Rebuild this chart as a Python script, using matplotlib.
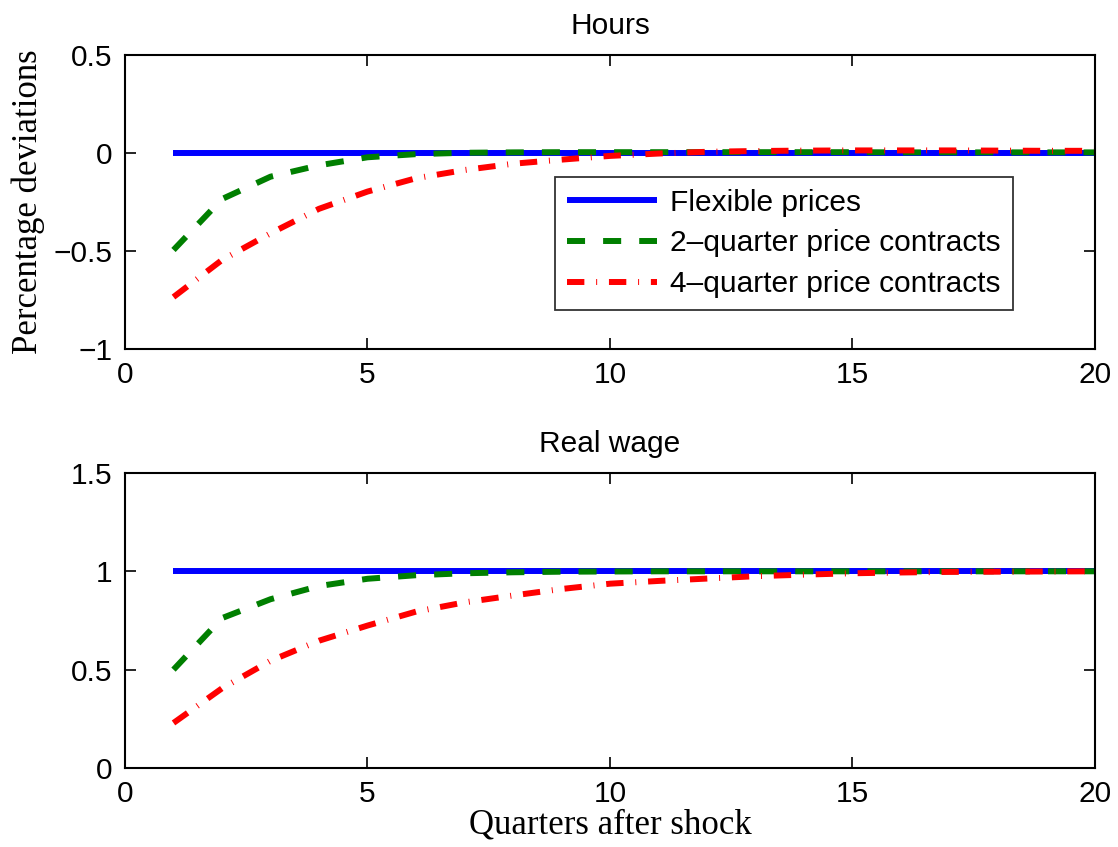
import matplotlib
matplotlib.use("Agg")
import matplotlib.pyplot as plt
import numpy as np

quarters = list(range(1, 21))

hours_flex = [0.0] * 20
hours_2q = [-0.495, -0.235, -0.121, -0.063, -0.022, -0.006, 0.001, 0.003, 0.004, 0.004,
            0.004, 0.004, 0.004, 0.004, 0.004, 0.003, 0.003, 0.003, 0.003, 0.003]
hours_4q = [-0.735, -0.546, -0.41, -0.285, -0.197, -0.129, -0.087, -0.055, -0.034, -0.015,
            -0.003, 0.006, 0.010, 0.012, 0.013, 0.013, 0.013, 0.012, 0.011, 0.011]

wage_flex = [1.0] * 20
wage_2q = [0.5, 0.762, 0.858, 0.925, 0.962, 0.98, 0.99, 0.995, 0.998, 0.999,
           1.0, 1.0, 1.0, 1.0, 1.0, 1.0, 1.0, 1.0, 1.0, 1.0]
wage_4q = [0.229, 0.405, 0.545, 0.647, 0.724, 0.795, 0.842, 0.877, 0.91, 0.937,
           0.951, 0.963, 0.975, 0.983, 0.99, 0.994, 0.997, 0.998, 0.999, 1.0]

labels = ["Flexible prices", "2\u2013quarter price contracts", "4\u2013quarter price contracts"]
titles = ["Hours", "Real wage"]
top_yticks = [-1, -0.5, 0, 0.5]
bot_yticks = [0, 0.5, 1, 1.5]
xticks = [0, 5, 10, 15, 20]

plt.rcParams['lines.scale_dashes'] = False
plt.rcParams['font.family'] = ['Liberation Sans', 'DejaVu Sans']
plt.rcParams['axes.unicode_minus'] = True

fig = plt.figure(figsize=(11.18, 8.47), dpi=100)
ax1 = fig.add_axes([0.1118, 0.5880, 0.8676, 0.3471])
ax2 = fig.add_axes([0.1118, 0.0933, 0.8676, 0.3483])

dash_green = (0, (13, 13))
dash_red = (0, (12.5, 8.5, 0.7, 8.5))
FS = 21.5

def draw(ax, flex, q2, q4, title, yticks, ylim):
    ax.plot(quarters, flex, color='#0000ff', lw=4.3, solid_capstyle='butt', label=labels[0])
    ax.plot(quarters, q2, color='#007f00', lw=4.3, linestyle=dash_green,
            dash_capstyle='butt', label=labels[1])
    ax.plot(quarters, q4, color='#ff0000', lw=4.3, linestyle=dash_red,
            dash_capstyle='butt', label=labels[2])
    ax.set_xlim(0, 20)
    ax.set_ylim(*ylim)
    ax.set_xticks(xticks)
    ax.set_yticks(yticks)
    ax.set_xticklabels([f"{t:g}" for t in xticks])
    ax.set_yticklabels([f"{t:g}".replace('-', '\u2212') for t in yticks])
    ax.tick_params(direction='in', length=8, width=1.2, labelsize=FS,
                   top=True, right=True, pad=9)
    for s in ax.spines.values():
        s.set_linewidth(1.5)
    ax.set_title(title, fontsize=FS, pad=15)

draw(ax1, hours_flex, hours_2q, hours_4q, titles[0], top_yticks, (-1, 0.5))
draw(ax2, wage_flex, wage_2q, wage_4q, titles[1], bot_yticks, (0, 1.5))

ax1.set_ylabel("Percentage deviations", fontsize=25, family=['Liberation Serif'], labelpad=6)
ax2.set_xlabel("Quarters after shock", fontsize=25, family=['Liberation Serif'], labelpad=0)

leg = ax1.legend(loc='upper left', bbox_to_anchor=(0.4433, 0.585), borderaxespad=0,
                 fontsize=FS, frameon=True, fancybox=False, edgecolor='black',
                 handlelength=3.0, handletextpad=0.45, labelspacing=0.42, borderpad=0.4)
leg.get_frame().set_linewidth(1.3)

fig.savefig("out.png", dpi=100)
